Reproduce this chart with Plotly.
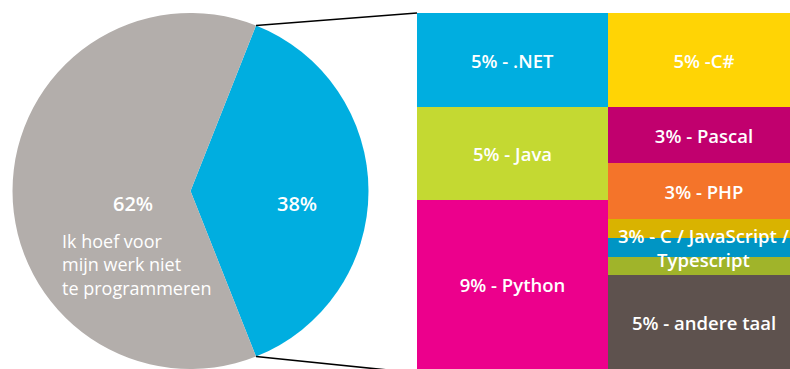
import math
import plotly.graph_objects as go

W, H = 790, 369
TOP = 13  # top margin in px

# left pie: share that programs vs. does not
pie_names = ["programmeert voor werk", "Ik hoef voor mijn werk niet te programmeren"]
pie_values = [38, 62]
pie_colors = ["#00aee0", "#b3aeab"]

# right block: languages, stacked bottom-up per column
lang_columns = ["links", "links", "links",
                "rechts", "rechts", "rechts", "rechts", "rechts", "rechts", "rechts"]
lang_names = ["Python", "Java", ".NET",
              "andere taal", "Typescript", "JavaScript", "C", "PHP", "Pascal", "C#"]
lang_values = [9, 5, 5, 5, 1, 1, 1, 3, 3, 5]
lang_text = ["9% - Python", "5% - Java", "5% - .NET",
             "5% - andere taal", "", "", "", "3% - PHP", "3% - Pascal", "5% -C#"]
lang_colors = ["#ec008c", "#c4d932", "#00aee0",
               "#5e524e", "#a0b42a", "#0095c4", "#d9b300", "#f4742a", "#c1006e", "#ffd405"]
combined_text = "3% - C / JavaScript /<br>Typescript"

FONT = "Open Sans"
LABEL_SIZE = 18.5


def px_x(x):
    return x / W


def px_y(y):
    return (H - y) / (H - TOP)


fig = go.Figure()

# pie geometry (matches plotly's own sizing for the domain below)
pie_x0, pie_x1 = 9, 372
r = min(pie_x1 - pie_x0, H - TOP) / 2
cx = (pie_x0 + pie_x1) / 2
cy = TOP + (H - TOP) / 2
rotation = 90 - 360 * pie_values[0] / sum(pie_values) / 2

fig.add_trace(go.Pie(
    labels=pie_names, values=pie_values, sort=False, direction="clockwise",
    rotation=rotation, marker=dict(colors=pie_colors, line=dict(width=0)),
    textinfo="none", hoverinfo="label+percent", showlegend=False,
    domain=dict(x=[px_x(pie_x0), px_x(pie_x1)], y=[0, 1]),
))

for col, name, val, txt, color in zip(lang_columns, lang_names, lang_values, lang_text, lang_colors):
    fig.add_trace(go.Bar(
        x=[col], y=[val], name=name, text=[txt], marker=dict(color=color, line=dict(width=0)),
        textposition="inside", insidetextanchor="middle", textangle=0, constraintext="none",
        textfont=dict(family=FONT, size=LABEL_SIZE, color="white", weight=600),
        showlegend=False, hovertemplate=f"{name}: {val}%<extra></extra>",
    ))

# combined label across the C / JavaScript / Typescript bands
right_vals = [v for c, v in zip(lang_columns, lang_values) if c == "rechts"]
mid_y = right_vals[0] + sum(right_vals[1:4]) / 2

annotations = [
    dict(x="rechts", y=mid_y, xref="x", yref="y", text=combined_text, showarrow=False,
         font=dict(family=FONT, size=LABEL_SIZE, color="white", weight=600), align="center"),
    dict(x=px_x(cx + 0.6 * r), y=px_y(cy + 13), xref="paper", yref="paper",
         text=f"{pie_values[0]}%", showarrow=False,
         font=dict(family=FONT, size=20, color="white", weight=600)),
    dict(x=px_x(111), y=px_y(cy + 13), xref="paper", yref="paper",
         text=f"{pie_values[1]}%", showarrow=False,
         font=dict(family=FONT, size=20, color="white", weight=600)),
    dict(x=px_x(60), y=px_y(227), xref="paper", yref="paper", xanchor="left", yanchor="top",
         text="Ik hoef voor<br>mijn werk niet<br>te programmeren", showarrow=False, align="left",
         font=dict(family=FONT, size=18, color="white")),
]

# connector lines from the blue slice edges to the language block
block_x = 417
a0 = math.radians(rotation)
a1 = math.radians(rotation + 360 * pie_values[0] / sum(pie_values))
top_pt = (cx + r * math.sin(a0), cy - r * math.cos(a0))
bot_pt = (cx + r * math.sin(a1), cy - r * math.cos(a1))
shapes = [
    dict(type="line", xref="paper", yref="paper", x0=px_x(top_pt[0]), y0=px_y(top_pt[1]),
         x1=px_x(block_x), y1=px_y(TOP), line=dict(color="black", width=1.6)),
    dict(type="line", xref="paper", yref="paper", x0=px_x(bot_pt[0]), y0=px_y(bot_pt[1]),
         x1=px_x(block_x), y1=px_y(H + 4), line=dict(color="black", width=1.6)),
]

left_total = sum(v for c, v in zip(lang_columns, lang_values) if c == "links")

fig.update_layout(
    width=W, height=H, margin=dict(l=0, r=0, t=TOP, b=0),
    paper_bgcolor="white", plot_bgcolor="white",
    barmode="stack", bargap=0,
    # right column runs slightly past the page edge, as in the original
    xaxis=dict(domain=[px_x(block_x), 1], visible=False, range=[-0.5, 1.45],
               categoryorder="array", categoryarray=["links", "rechts"]),
    yaxis=dict(visible=False, range=[0, left_total]),
    annotations=annotations, shapes=shapes,
    font=dict(family=FONT),
)

# drop the default 8px page margin so the figure sits flush in the window
fig.write_html("out.html", config={"displayModeBar": False},
               post_script="document.body.style.margin = '0';")
